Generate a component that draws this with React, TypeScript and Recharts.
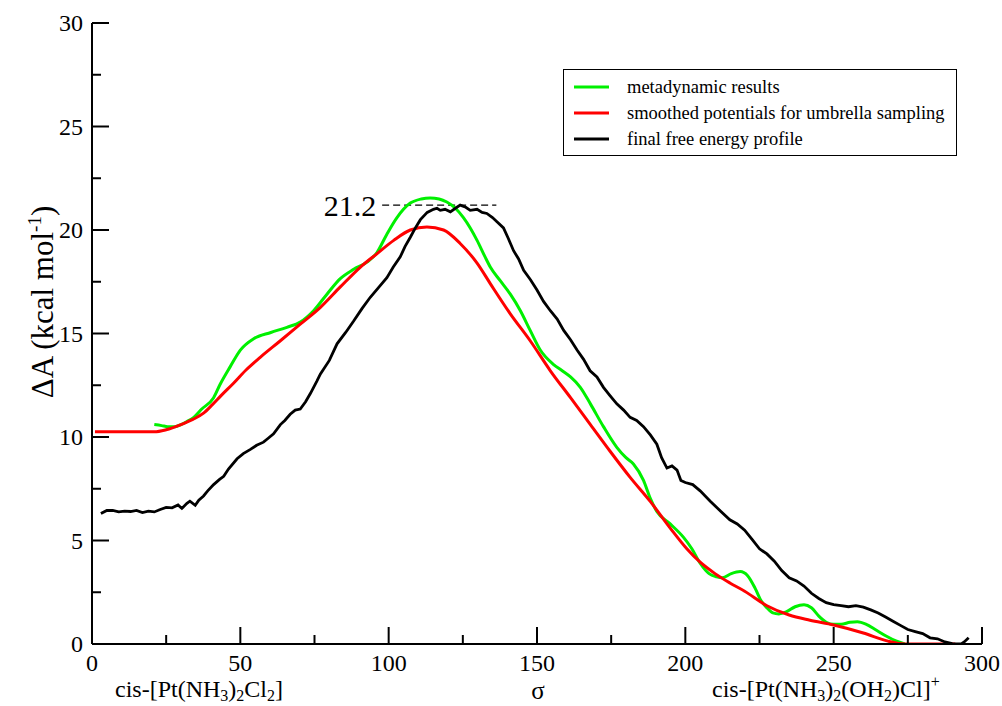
import React from "react";
import {
  LineChart,
  Line,
  XAxis,
  YAxis,
  Legend,
  ReferenceLine,
  Label,
} from "recharts";

// sigma, delta A (kcal/mol)
const metadynamic: [number, number][] = [
  [21, 10.6], [23.5, 10.55], [25.5, 10.5], [28, 10.5], [30, 10.6], [32, 10.75],
  [34.3, 10.95], [37, 11.35], [41, 11.9], [43.2, 12.55], [46.6, 13.4], [50, 14.2],
  [54.5, 14.75], [60.3, 15.05], [65.7, 15.3], [70.2, 15.55], [74.7, 16.1], [79.2, 16.9],
  [83.7, 17.65], [88.2, 18.1], [92.7, 18.45], [96, 18.9], [99.4, 19.8], [102.8, 20.6],
  [107.3, 21.3], [111, 21.5], [114, 21.55], [117, 21.5], [119.6, 21.35], [122.5, 21.05],
  [125.2, 20.6], [127.5, 20.1], [129.8, 19.5], [132.5, 18.7], [134.3, 18.2], [137.6, 17.55],
  [141, 16.9], [144.4, 16.1], [147.7, 15.15], [151.1, 14.2], [155.6, 13.5], [158.5, 13.2],
  [161.3, 12.9], [164.6, 12.4], [168, 11.6], [172.4, 10.5], [176.9, 9.5], [180, 9.0],
  [182.5, 8.7], [185.9, 7.9], [188, 7.1], [190.4, 6.4], [194.9, 5.8], [199.4, 5.15],
  [202.2, 4.6], [205, 3.9], [208, 3.4], [210.5, 3.25], [212.5, 3.2], [215.5, 3.4],
  [218.5, 3.5], [221, 3.3], [223.5, 2.7], [225.5, 2.1], [227.5, 1.75], [229.5, 1.5],
  [231.5, 1.45], [234, 1.55], [237, 1.8], [240, 1.9], [242.5, 1.75], [245, 1.35],
  [247.5, 1.05], [250, 0.95], [252.5, 0.95], [255.5, 1.05], [258, 1.08], [261, 0.95],
  [264, 0.7], [267.5, 0.4], [271, 0.15], [274, 0],
];

const smoothed: [number, number][] = [
  [1, 10.25], [21, 10.25], [25, 10.35], [30, 10.6], [34, 10.85], [37.6, 11.15],
  [40.5, 11.55], [43.5, 12.0], [47.7, 12.6], [52, 13.25], [56.7, 13.85], [63.5, 14.65], [70.2, 15.45],
  [76.9, 16.25], [83.7, 17.25], [90.4, 18.2], [96, 18.85], [101.7, 19.5], [107.3, 20.0],
  [112.9, 20.15], [118.5, 20.0], [124.1, 19.35], [129.8, 18.4], [134.3, 17.4], [141, 15.95],
  [147.7, 14.65], [154.5, 13.2], [161.3, 11.9], [168, 10.6], [174.7, 9.3], [181.4, 8.05],
  [188.1, 6.9], [194.9, 5.6], [200.5, 4.6], [205, 3.95], [210, 3.4], [215, 2.95],
  [220, 2.55], [227.5, 1.85], [235, 1.4], [242, 1.15], [250, 0.92], [260, 0.53],
  [268, 0.15], [274, 0], [282, 0], [291, 0],
];

const finalProfile: [number, number][] = [
  [3, 6.3], [5, 6.45], [7, 6.45], [9, 6.38], [11, 6.42], [13, 6.4], [15, 6.45], [17, 6.35],
  [19, 6.42], [21, 6.38], [23, 6.5], [25, 6.6], [27, 6.58], [29, 6.72], [30.3, 6.55],
  [32, 6.8], [33, 6.9], [34.8, 6.7], [36, 6.95], [37.6, 7.15], [39, 7.4], [41, 7.7],
  [43, 7.95], [44.4, 8.1], [46, 8.45], [48.9, 8.95], [51, 9.2], [53.4, 9.4], [55.5, 9.6],
  [57.8, 9.75], [59.5, 9.95], [61.2, 10.15], [63.5, 10.6], [65, 10.8], [66.8, 11.1],
  [68.5, 11.3], [70.2, 11.35], [72, 11.7], [73.6, 12.1], [75.8, 12.7], [77, 13.05],
  [80, 13.7], [82.6, 14.5], [85.5, 15.05], [88.2, 15.6], [91, 16.2], [93.8, 16.75],
  [96.5, 17.2], [99.4, 17.7], [101.5, 18.2], [103.9, 18.7], [105.5, 19.2], [107.3, 19.65],
  [109, 20.1], [110.7, 20.5], [113, 20.85], [115.1, 21.0], [116.3, 21.05], [117.4, 20.95],
  [119, 21.0], [120.8, 20.88], [122.5, 21.05], [124.1, 21.2], [126, 21.1], [127.5, 20.95],
  [129.8, 21.0], [131.5, 20.85], [133.1, 20.8], [135, 20.6], [136.5, 20.4], [138.7, 20.1],
  [140.3, 19.6], [142.1, 19.0], [143.8, 18.6], [145.5, 18.05], [147.8, 17.6], [150, 17.1],
  [152.2, 16.55], [154.5, 16.1], [156.8, 15.7], [159, 15.15], [161.3, 14.7], [163.5, 14.2],
  [165.7, 13.75], [167.9, 13.2], [170.2, 12.9], [172.4, 12.4], [174.6, 12.0], [176.9, 11.6],
  [179.2, 11.3], [181.4, 10.95], [183.6, 10.8], [185.9, 10.5], [188.2, 10.1], [190.4, 9.65],
  [192, 9.0], [193.8, 8.5], [195.5, 8.6], [197.2, 8.4], [198.5, 7.9], [200, 7.8],
  [202.5, 7.7], [205, 7.4], [208.4, 6.9], [212, 6.4], [215, 6.0], [217.5, 5.8], [220, 5.5],
  [222.5, 5.05], [225, 4.6], [227.5, 4.35], [230, 4.0], [232.5, 3.55], [235, 3.2],
  [237.5, 3.05], [240, 2.8], [242.5, 2.45], [245, 2.2], [247.5, 2.0], [250, 1.9],
  [252.5, 1.85], [255, 1.8], [257.5, 1.85], [260, 1.78], [262.5, 1.65], [265, 1.5],
  [267.5, 1.3], [270, 1.1], [272.5, 0.9], [275, 0.7], [277.5, 0.6], [280, 0.5],
  [282.5, 0.3], [285, 0.25], [287.5, 0.1], [290, 0.02], [291.5, 0], [293, 0],
  [294, 0.1], [295.5, 0.3],
];

const seriesNames = [
  "metadynamic results",
  "smoothed potentials for umbrella sampling",
  "final free energy profile",
];
const seriesColors = ["#00f000", "#ff0000", "#000000"];

const xTicks = [0, 25, 50, 75, 100, 125, 150, 175, 200, 225, 250, 275, 300];
const yTicks = [0, 2.5, 5, 7.5, 10, 12.5, 15, 17.5, 20, 22.5, 25, 27.5, 30];

const barrier = 21.2;
const barrierSpan = [97.8, 136.3];

const toRows = (pts: [number, number][]) => pts.map(([x, y]) => ({ x, y }));

const FONT = "'Liberation Serif', 'Times New Roman', serif";
const serif = { fontFamily: FONT };
const W = 1002;
const H = 706;
const LEFT = 92;
const RIGHT = 982;
const TOP = 23;
const BOTTOM = 644;
const MAJOR = 17;
const MINOR = 9;

const BottomTick = (props: any) => {
  const { x, payload } = props;
  const v = payload.value;
  const major = v % 50 === 0;
  return (
    <g>
      <line x1={x} x2={x} y1={BOTTOM} y2={BOTTOM - (major ? MAJOR : MINOR)} stroke="#000" strokeWidth={2} />
      {major && (
        <text x={x} y={BOTTOM + 27} textAnchor="middle" style={serif} fontSize={24} fill="#000">
          {v}
        </text>
      )}
    </g>
  );
};

const TopTick = (props: any) => {
  const { x, payload } = props;
  const major = payload.value % 50 === 0;
  return <line x1={x} x2={x} y1={TOP} y2={TOP + (major ? MAJOR : MINOR)} stroke="#000" strokeWidth={2} />;
};

const LeftTick = (props: any) => {
  const { y, payload } = props;
  const v = payload.value;
  const major = v % 5 === 0;
  return (
    <g>
      <line x1={LEFT} x2={LEFT + (major ? MAJOR : MINOR)} y1={y} y2={y} stroke="#000" strokeWidth={2} />
      {major && (
        <text x={LEFT - 9} y={y + 8} textAnchor="end" style={serif} fontSize={24} fill="#000">
          {v}
        </text>
      )}
    </g>
  );
};

const RightTick = (props: any) => {
  const { y, payload } = props;
  const major = payload.value % 5 === 0;
  return <line x1={RIGHT} x2={RIGHT - (major ? MAJOR : MINOR)} y1={y} y2={y} stroke="#000" strokeWidth={2} />;
};

const YTitle = () => (
  <text transform="translate(53,302) rotate(-90)" textAnchor="middle" style={serif} fontSize={31} fill="#000">
    ΔA (kcal mol
    <tspan dy={-12} fontSize={19}>-1</tspan>
    <tspan dy={12}>)</tspan>
  </text>
);

const XTitles = () => (
  <g style={serif} fill="#000">
    <text x={538} y={699} textAnchor="middle" fontSize={25}>σ</text>
    <text x={115} y={697} fontSize={24}>
      cis-[Pt(NH
      <tspan dy={4} fontSize={16}>3</tspan>
      <tspan dy={-4}>)</tspan>
      <tspan dy={4} fontSize={16}>2</tspan>
      <tspan dy={-4}>Cl</tspan>
      <tspan dy={4} fontSize={16}>2</tspan>
      <tspan dy={-4}>]</tspan>
    </text>
    <text x={712} y={697} fontSize={24}>
      cis-[Pt(NH
      <tspan dy={4} fontSize={16}>3</tspan>
      <tspan dy={-4}>)</tspan>
      <tspan dy={4} fontSize={16}>2</tspan>
      <tspan dy={-4}>(OH</tspan>
      <tspan dy={4} fontSize={16}>2</tspan>
      <tspan dy={-4}>)Cl]</tspan>
      <tspan dy={-10} fontSize={16}>+</tspan>
    </text>
  </g>
);

const LegendBox = (props: any) => {
  const items = [...(props.payload || [])].sort(
    (a: any, b: any) => seriesNames.indexOf(a.value) - seriesNames.indexOf(b.value)
  );
  return (
    <div
      style={{
        position: "relative",
        width: 394,
        height: 87,
        boxSizing: "border-box",
        border: "1.5px solid #000",
        background: "#fff",
        fontFamily: FONT,
        fontSize: 18.5,
        color: "#000",
      }}
    >
      {items.map((it: any, i: number) => (
        <div key={i} style={{ position: "absolute", left: 0, top: 6 + i * 26, height: 22, display: "flex", alignItems: "center" }}>
          <svg width={56} height={22} style={{ display: "block" }}>
            <line x1={10} x2={45} y1={11} y2={11} stroke={it.color} strokeWidth={3} />
          </svg>
          <span style={{ marginLeft: 7, whiteSpace: "nowrap", lineHeight: "22px" }}>{it.value}</span>
        </div>
      ))}
    </div>
  );
};

const seriesData = [metadynamic, smoothed, finalProfile];

export default function App() {
  return (
    <div style={{ position: "absolute", left: 0, top: 0, width: W, height: H, background: "#fff" }}>
      <LineChart width={W} height={H} margin={{ top: TOP, right: W - RIGHT, bottom: 0, left: 0 }}>
        <XAxis
          dataKey="x"
          type="number"
          domain={[0, 300]}
          ticks={xTicks}
          interval={0}
          height={H - BOTTOM}
          axisLine={{ stroke: "#000", strokeWidth: 2 }}
          tickLine={false}
          tick={<BottomTick />}
          allowDataOverflow
          label={<XTitles />}
        />
        <XAxis
          xAxisId="top"
          orientation="top"
          type="number"
          domain={[0, 300]}
          ticks={xTicks}
          interval={0}
          height={0}
          axisLine={{ stroke: "#000", strokeWidth: 2 }}
          tickLine={false}
          tick={<TopTick />}
          allowDataOverflow
        />
        <YAxis
          type="number"
          domain={[0, 30]}
          ticks={yTicks}
          interval={0}
          width={LEFT}
          axisLine={{ stroke: "#000", strokeWidth: 2 }}
          tickLine={false}
          tick={<LeftTick />}
          allowDataOverflow
          label={<YTitle />}
        />
        <YAxis
          yAxisId="right"
          orientation="right"
          type="number"
          domain={[0, 30]}
          ticks={yTicks}
          interval={0}
          width={0}
          axisLine={{ stroke: "#000", strokeWidth: 2 }}
          tickLine={false}
          tick={<RightTick />}
          allowDataOverflow
        />
        <Legend
          layout="horizontal"
          verticalAlign="middle"
          align="center"
          wrapperStyle={{ left: 563, top: 69, width: 394 }}
          content={<LegendBox />}
        />
        <ReferenceLine
          segment={[
            { x: barrierSpan[0], y: barrier },
            { x: barrierSpan[1], y: barrier },
          ]}
          stroke="#000"
          strokeWidth={1.2}
          strokeDasharray="7 4"
        >
          <Label value={String(barrier)} position="left" offset={6} fill="#000" fontSize={30} style={serif} />
        </ReferenceLine>
        {seriesData.map((pts, i) => (
          <Line
            key={seriesNames[i]}
            data={toRows(pts)}
            dataKey="y"
            name={seriesNames[i]}
            type={i === 2 ? "linear" : "monotone"}
            stroke={seriesColors[i]}
            strokeWidth={i === 2 ? 2.8 : 3}
            dot={false}
            activeDot={false}
            isAnimationActive={false}
          />
        ))}
      </LineChart>
    </div>
  );
}
